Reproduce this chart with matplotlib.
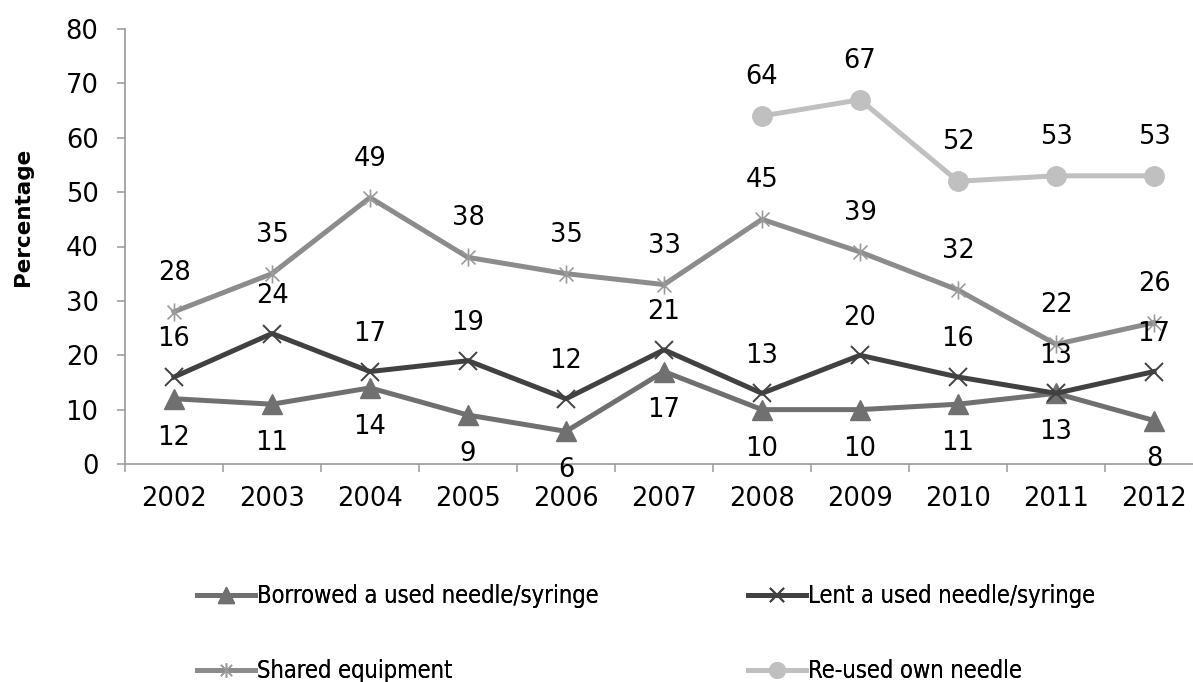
import matplotlib
matplotlib.use("Agg")
import matplotlib.pyplot as plt
from matplotlib.path import Path
import numpy as np

years = ["2002", "2003", "2004", "2005", "2006", "2007", "2008", "2009", "2010", "2011", "2012"]
borrowed = [12, 11, 14, 9, 6, 17, 10, 10, 11, 13, 8]
lent = [16, 24, 17, 19, 12, 21, 13, 20, 16, 13, 17]
shared = [28, 35, 49, 38, 35, 33, 45, 39, 32, 22, 26]
reused = [None, None, None, None, None, None, 64, 67, 52, 53, 53]

series_names = ["Borrowed a used needle/syringe", "Lent a used needle/syringe",
                "Shared equipment", "Re-used own needle"]

plt.rcParams["font.family"] = ["DejaVu Sans"]

fig = plt.figure(figsize=(11.93, 6.82), dpi=100)
ax = fig.add_axes([125 / 1193, 218 / 682, 1078 / 1193, 435 / 682])

x = np.arange(len(years))

# asterisk marker: an x crossed by a vertical stroke
star_path = Path([(-1, -1), (1, 1), (-1, 1), (1, -1), (0, -1.3), (0, 1.3)],
                 [Path.MOVETO, Path.LINETO, Path.MOVETO, Path.LINETO, Path.MOVETO, Path.LINETO])

c_borrow = "#707070"
c_lent = "#414141"
c_shared = "#8c8c8c"
c_reused = "#c0c0c0"

l1, = ax.plot(x, borrowed, color=c_borrow, lw=3.6, marker="^", ms=14,
              mfc=c_borrow, mec=c_borrow, label=series_names[0], zorder=3)
l2, = ax.plot(x, lent, color=c_lent, lw=3.6, marker="x", ms=13, mew=1.4,
              mec=c_lent, label=series_names[1], zorder=4)
l3, = ax.plot(x, shared, color=c_shared, lw=3.6, marker=star_path, ms=13, mew=1.2,
              mfc="none", mec="#9a9a9a", label=series_names[2], zorder=5)
rx = [i for i, v in enumerate(reused) if v is not None]
rv = [v for v in reused if v is not None]
l4, = ax.plot(rx, rv, color=c_reused, lw=3.6, marker="o", ms=14,
              mfc=c_reused, mec=c_reused, label=series_names[3], zorder=6)

lab_fs = 18.5
def label_points(xs, vals, dy):
    for xi, v in zip(xs, vals):
        ax.annotate(f"{v}", (xi, v), xytext=(0, dy), textcoords="offset points",
                    ha="center", va="center", fontsize=lab_fs, color="black", zorder=10,
                    annotation_clip=False)

label_points(x, borrowed, -28)
label_points(x, lent, 27)
label_points(x, shared, 28)
label_points(rx, rv, 28)

ax.set_xlim(-0.5, 10.5)
ax.set_ylim(0, 80)
ax.set_yticks(np.arange(0, 81, 10))
ax.set_xticks(x)
ax.set_xticklabels(years)
ax.set_xticks(np.arange(-0.5, 10.6, 1), minor=True)
ax.tick_params(axis="x", which="major", length=0, pad=16, labelsize=18.5)
ax.tick_params(axis="x", which="minor", length=6, width=1.1, color="#999999", direction="out")
ax.tick_params(axis="y", which="major", length=6, width=1.1, color="#999999",
               direction="out", pad=13, labelsize=18.5)

for s in ["top", "right"]:
    ax.spines[s].set_visible(False)
for s in ["left", "bottom"]:
    ax.spines[s].set_color("#999999")
    ax.spines[s].set_linewidth(1.2)

ax.set_ylabel("Percentage", fontsize=15.5, fontweight="semibold")
ax.yaxis.set_label_coords((33 - 125) / 1078, (464 - 217) / 435)

# legend entries laid out in two rows of two
leg_fs = 17
positions = [(197, 596, l1), (748, 596, l2), (197, 671, l3), (748, 671, l4)]
for px, py, h in positions:
    lg = fig.legend(handles=[h], loc="center left",
                    bbox_to_anchor=(px / 1193, 1 - py / 682),
                    frameon=False, borderpad=0, borderaxespad=0,
                    handlelength=2.45, handletextpad=0.1, markerscale=0.8,
                    prop={"size": leg_fs, "stretch": "condensed"})
    fig.add_artist(lg)

fig.savefig("out.png", dpi=100)
